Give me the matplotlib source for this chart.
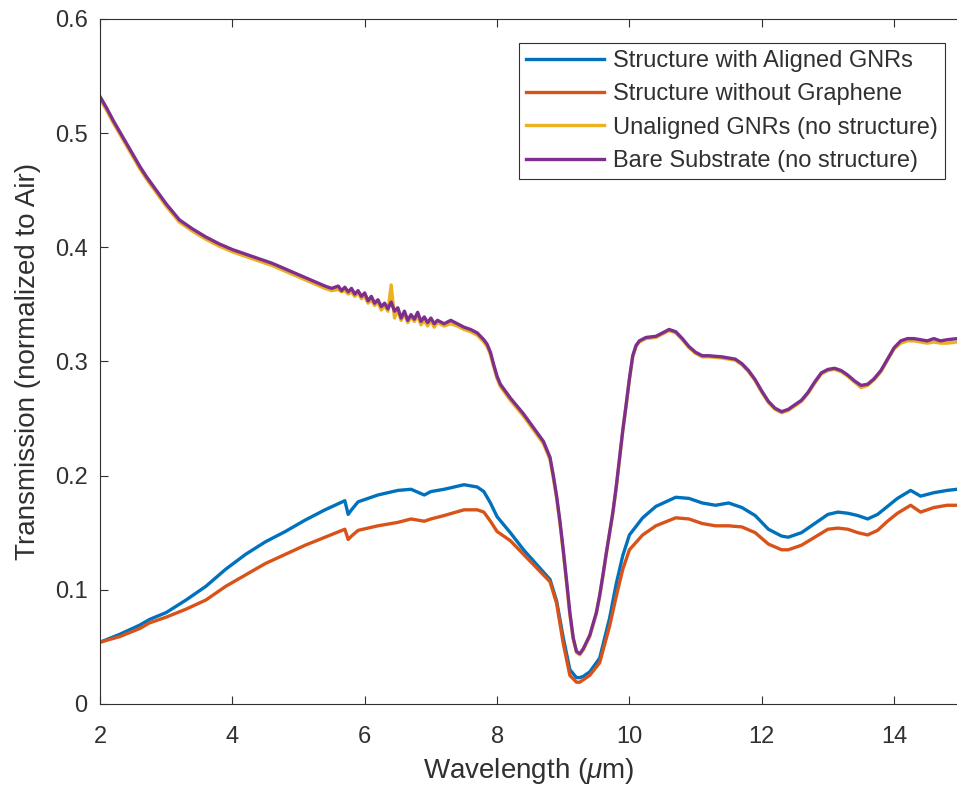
import matplotlib.pyplot as plt

plt.rcParams['font.family'] = ['Liberation Sans', 'DejaVu Sans']
plt.rcParams['mathtext.fontset'] = 'custom'
plt.rcParams['mathtext.it'] = 'Liberation Sans:italic'
plt.rcParams['mathtext.rm'] = 'Liberation Sans'

# wavelength grid (um) for the two "no structure" curves
wl_top = [2.0, 2.1, 2.2, 2.3, 2.4, 2.5, 2.6, 2.7, 2.8, 2.9,
          3.0, 3.2, 3.4, 3.6, 3.8, 4.0, 4.2, 4.4, 4.6, 4.8,
          5.0, 5.2, 5.4, 5.5, 5.6, 5.65, 5.7, 5.75, 5.8, 5.85,
          5.9, 5.95, 6.0, 6.05, 6.1, 6.15, 6.2, 6.25, 6.3, 6.35,
          6.4, 6.45, 6.5, 6.55, 6.6, 6.65, 6.7, 6.75, 6.8, 6.85,
          6.9, 6.95, 7.0, 7.05, 7.1, 7.2, 7.3, 7.4, 7.5, 7.6,
          7.7, 7.75, 7.8, 7.85, 7.9, 7.95, 8.0, 8.05, 8.2, 8.4,
          8.6, 8.7, 8.8, 8.85, 8.9, 8.95, 9.0, 9.05, 9.1, 9.15,
          9.2, 9.25, 9.3, 9.4, 9.5, 9.55, 9.6, 9.65, 9.7, 9.75,
          9.8, 9.85, 9.9, 9.95, 10.0, 10.05, 10.1, 10.15, 10.25, 10.4,
          10.5, 10.6, 10.7, 10.8, 10.9, 11.0, 11.1, 11.2, 11.4, 11.6,
          11.7, 11.8, 11.9, 12.0, 12.1, 12.2, 12.3, 12.4, 12.5, 12.6,
          12.7, 12.8, 12.9, 13.0, 13.1, 13.2, 13.3, 13.4, 13.5, 13.6,
          13.7, 13.8, 13.9, 14.0, 14.1, 14.2, 14.3, 14.4, 14.5, 14.6,
          14.7, 14.8, 14.95]

bare = [0.532, 0.522, 0.511, 0.501, 0.491, 0.481, 0.471, 0.462, 0.454, 0.446,
        0.438, 0.424, 0.416, 0.409, 0.403, 0.398, 0.394, 0.390, 0.386, 0.381,
        0.376, 0.371, 0.366, 0.364, 0.366, 0.362, 0.365, 0.361, 0.364, 0.359,
        0.362, 0.357, 0.360, 0.353, 0.357, 0.351, 0.354, 0.348, 0.351, 0.346,
        0.352, 0.344, 0.347, 0.338, 0.344, 0.336, 0.341, 0.337, 0.343, 0.335,
        0.339, 0.334, 0.338, 0.333, 0.336, 0.333, 0.336, 0.333, 0.330, 0.328,
        0.325, 0.322, 0.319, 0.315, 0.308, 0.297, 0.287, 0.280, 0.268, 0.254,
        0.238, 0.230, 0.216, 0.200, 0.182, 0.160, 0.135, 0.108, 0.080, 0.058,
        0.046, 0.044, 0.048, 0.060, 0.080, 0.095, 0.113, 0.132, 0.150, 0.168,
        0.190, 0.215, 0.240, 0.262, 0.285, 0.305, 0.314, 0.318, 0.321, 0.322,
        0.325, 0.328, 0.326, 0.320, 0.313, 0.308, 0.305, 0.305, 0.304, 0.302,
        0.298, 0.292, 0.284, 0.274, 0.265, 0.259, 0.256, 0.258, 0.262, 0.266,
        0.273, 0.282, 0.290, 0.293, 0.294, 0.292, 0.288, 0.283, 0.279, 0.280,
        0.285, 0.292, 0.302, 0.312, 0.318, 0.320, 0.320, 0.319, 0.318, 0.320,
        0.318, 0.319, 0.320]

unaligned = [0.530, 0.520, 0.509, 0.499, 0.489, 0.479, 0.469, 0.460, 0.452, 0.444,
             0.436, 0.422, 0.414, 0.407, 0.401, 0.396, 0.392, 0.388, 0.384, 0.379,
             0.374, 0.369, 0.364, 0.362, 0.363, 0.361, 0.362, 0.359, 0.361, 0.357,
             0.360, 0.355, 0.357, 0.351, 0.354, 0.349, 0.352, 0.345, 0.349, 0.344,
             0.367, 0.338, 0.345, 0.336, 0.342, 0.334, 0.339, 0.335, 0.340, 0.332,
             0.336, 0.331, 0.336, 0.330, 0.334, 0.331, 0.333, 0.331, 0.328, 0.326,
             0.323, 0.320, 0.317, 0.313, 0.306, 0.295, 0.285, 0.278, 0.266, 0.252,
             0.236, 0.228, 0.214, 0.198, 0.180, 0.158, 0.133, 0.106, 0.078, 0.057,
             0.045, 0.043, 0.047, 0.059, 0.079, 0.094, 0.112, 0.131, 0.149, 0.167,
             0.189, 0.214, 0.239, 0.261, 0.284, 0.304, 0.313, 0.317, 0.320, 0.321,
             0.324, 0.327, 0.325, 0.319, 0.312, 0.307, 0.304, 0.304, 0.303, 0.301,
             0.297, 0.291, 0.283, 0.273, 0.264, 0.258, 0.255, 0.257, 0.261, 0.265,
             0.272, 0.281, 0.289, 0.292, 0.293, 0.291, 0.287, 0.282, 0.277, 0.279,
             0.284, 0.291, 0.301, 0.311, 0.316, 0.318, 0.318, 0.317, 0.316, 0.317,
             0.316, 0.316, 0.317]

# wavelength grid (um) for the two structure curves
wl_low = [2.0, 2.3, 2.6, 2.75, 3.0, 3.3, 3.6, 3.9, 4.2, 4.5,
          4.8, 5.1, 5.4, 5.7, 5.75, 5.8, 5.9, 6.2, 6.5, 6.7,
          6.9, 7.0, 7.2, 7.5, 7.7, 7.8, 7.9, 8.0, 8.2, 8.4,
          8.6, 8.8, 8.9, 9.0, 9.1, 9.2, 9.25, 9.3, 9.4, 9.55,
          9.7, 9.8, 9.9, 10.0, 10.2, 10.4, 10.7, 10.9, 11.1, 11.3,
          11.5, 11.7, 11.9, 12.1, 12.3, 12.4, 12.6, 12.8, 13.0, 13.15,
          13.3, 13.45, 13.6, 13.75, 13.9, 14.05, 14.25, 14.4, 14.6, 14.8,
          14.95]

aligned = [0.054, 0.061, 0.069, 0.074, 0.080, 0.091, 0.103, 0.118, 0.131, 0.142,
           0.151, 0.161, 0.170, 0.178, 0.166, 0.170, 0.177, 0.183, 0.187, 0.188,
           0.183, 0.186, 0.188, 0.192, 0.190, 0.186, 0.176, 0.164, 0.150, 0.135,
           0.122, 0.109, 0.090, 0.058, 0.030, 0.023, 0.023, 0.024, 0.028, 0.040,
           0.075, 0.105, 0.130, 0.148, 0.163, 0.173, 0.181, 0.180, 0.176, 0.174,
           0.176, 0.172, 0.165, 0.153, 0.147, 0.146, 0.150, 0.158, 0.166, 0.168,
           0.167, 0.165, 0.162, 0.166, 0.173, 0.180, 0.187, 0.182, 0.185, 0.187,
           0.188]

no_graphene = [0.054, 0.059, 0.066, 0.071, 0.076, 0.083, 0.091, 0.103, 0.113, 0.123,
               0.131, 0.139, 0.146, 0.153, 0.144, 0.147, 0.152, 0.156, 0.159, 0.162,
               0.160, 0.162, 0.165, 0.170, 0.170, 0.168, 0.160, 0.151, 0.143, 0.131,
               0.119, 0.107, 0.088, 0.053, 0.025, 0.019, 0.019, 0.021, 0.025, 0.036,
               0.068, 0.094, 0.118, 0.135, 0.148, 0.156, 0.163, 0.162, 0.158, 0.156,
               0.156, 0.155, 0.150, 0.140, 0.135, 0.135, 0.139, 0.146, 0.153, 0.154,
               0.153, 0.150, 0.148, 0.152, 0.160, 0.167, 0.174, 0.168, 0.172, 0.174,
               0.174]

labels = ['Structure with Aligned GNRs', 'Structure without Graphene',
          'Unaligned GNRs (no structure)', 'Bare Substrate (no structure)']
colors = ['#0072BD', '#D95319', '#EDB120', '#7E2F8E']

fig = plt.figure(figsize=(9.57, 7.9), dpi=100)
ax = fig.add_axes([0.1045, 0.109, 0.8955, 0.867])

ax.plot(wl_low, aligned, color=colors[0], lw=2.4, label=labels[0])
ax.plot(wl_low, no_graphene, color=colors[1], lw=2.4, label=labels[1])
ax.plot(wl_top, unaligned, color=colors[2], lw=2.4, label=labels[2])
ax.plot(wl_top, bare, color=colors[3], lw=2.4, label=labels[3])

ax.set_xlim(2, 14.95)
ax.set_ylim(0, 0.6)
ax.set_xticks([2, 4, 6, 8, 10, 12, 14])
ax.set_yticks([0, 0.1, 0.2, 0.3, 0.4, 0.5, 0.6])
ax.set_yticklabels(['0', '0.1', '0.2', '0.3', '0.4', '0.5', '0.6'])

dark = '#303030'
ax.tick_params(direction='in', length=6, width=0.8, top=True, right=False,
               labelsize=17, colors=dark)
ax.tick_params(axis='x', pad=16)
ax.tick_params(axis='y', pad=9)
for s in ['left', 'bottom', 'top']:
    ax.spines[s].set_color(dark)
    ax.spines[s].set_linewidth(0.8)
ax.spines['right'].set_visible(False)

ax.set_xlabel('Wavelength ($\\mu$m)', fontsize=20, color=dark, labelpad=6)
ax.set_ylabel('Transmission (normalized to Air)', fontsize=20, color=dark, labelpad=10)

leg = ax.legend(loc='upper right', bbox_to_anchor=(0.986, 0.965), borderaxespad=0,
                fontsize=17, fancybox=False, framealpha=1, edgecolor=dark,
                handlelength=3.3, labelspacing=0.48, handletextpad=0.4,
                borderpad=0.3)
leg.get_frame().set_linewidth(0.8)
for t in leg.get_texts():
    t.set_color(dark)

fig.savefig('out.png', dpi=100)
